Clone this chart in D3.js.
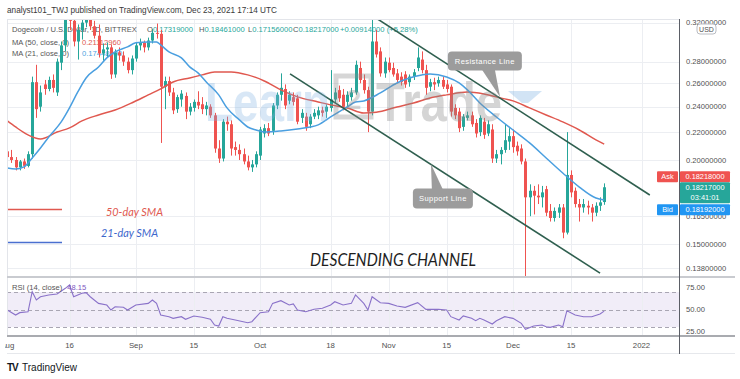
<!DOCTYPE html>
<html><head><meta charset="utf-8">
<script src="https://cdn.jsdelivr.net/npm/d3@7"></script>
<style>
html,body{margin:0;padding:0;background:#fff;}
svg{display:block;font-family:"Liberation Sans","DejaVu Sans",sans-serif;}
</style></head><body>
<svg id="c" width="740" height="379"></svg>
<script>
// ---------- DATA ----------
const firstDay = "2021-08-01";
const openP = [
.206,.202,.200,.195,.199,.196,.204,
.261,.240,.259,.255,.263,.252,.279,
.296,.330,.322,.300,.312,.320,.330,
.316,.306,.288,.292,.294,.268,.289,
.286,.280,.272,.283,.296,.299,.294,
.301,.309,.308,.257,.262,.252,.238,
.246,.249,.236,.239,.244,.242,.238,
.240,.233,.208,.201,.228,.226,.209,
.207,.204,.199,.195,.197,.203,.219,
.223,.221,.241,.250,.255,.245,.248,
.247,.231,.232,.226,.232,.233,.237,
.236,.239,.246,.254,.250,.244,.248,
.252,.274,.263,.254,.236,.300,.290,
.269,.279,.274,.269,.266,.268,.261,
.266,.274,.282,.272,.257,.261,.260,
.263,.259,.257,.239,.236,.224,.231,
.233,.227,.220,.228,.219,.222,.201,
.204,.207,.213,.217,.210,.208,.199,
.176,.180,.177,.176,.181,.168,.164,
.167,.170,.156,.190,.180,.172,.170,
.171,.170,.167,.171,.17319];
const highP = [
.209,.207,.202,.200,.201,.206,.266,
.277,.258,.263,.266,.268,.283,.300,
.340,.350,.330,.318,.325,.338,.336,
.322,.318,.298,.299,.297,.292,.294,
.290,.284,.286,.299,.303,.301,.304,
.313,.319,.312,.266,.266,.256,.250,
.254,.252,.243,.246,.253,.248,.244,
.242,.235,.214,.230,.232,.229,.213,
.211,.208,.203,.200,.206,.224,.226,
.227,.243,.252,.269,.259,.253,.252,
.250,.238,.235,.234,.238,.240,.240,
.242,.272,.256,.258,.255,.253,.256,
.281,.280,.268,.257,.323,.312,.294,
.284,.284,.279,.273,.270,.271,.268,
.273,.294,.290,.277,.264,.265,.266,
.266,.263,.259,.242,.239,.234,.236,
.236,.230,.233,.231,.229,.226,.207,
.209,.226,.223,.222,.213,.211,.201,
.184,.183,.184,.183,.183,.172,.170,
.172,.172,.220,.193,.182,.175,.175,
.174,.172,.173,.176,.18461];
const lowP = [
.200,.198,.193,.193,.194,.195,.201,
.231,.236,.250,.253,.252,.249,.272,
.290,.312,.295,.282,.302,.315,.312,
.303,.284,.281,.284,.264,.265,.281,
.276,.269,.268,.280,.291,.289,.291,
.298,.303,.212,.238,.249,.234,.235,
.240,.230,.233,.236,.238,.234,.233,
.231,.205,.198,.199,.221,.203,.203,
.200,.197,.193,.192,.195,.200,.216,
.217,.218,.238,.245,.238,.242,.241,
.226,.227,.221,.223,.230,.230,.232,
.231,.236,.243,.244,.237,.240,.245,
.250,.260,.251,.220,.233,.284,.266,
.265,.270,.266,.260,.258,.256,.257,
.263,.271,.269,.250,.253,.254,.257,
.255,.252,.232,.230,.220,.221,.229,
.224,.216,.217,.215,.217,.198,.198,
.197,.205,.207,.205,.203,.197,.130,
.165,.166,.172,.170,.165,.162,.162,
.164,.153,.155,.176,.170,.162,.167,
.166,.162,.165,.168,.17156];
const closeP = [
.202,.200,.195,.199,.196,.204,.261,
.238,.252,.255,.263,.256,.280,.296,
.330,.322,.300,.312,.320,.330,.316,
.306,.288,.292,.294,.268,.289,.286,
.280,.272,.283,.296,.299,.294,.301,
.309,.308,.257,.262,.252,.237,.248,
.251,.236,.240,.244,.241,.238,.241,
.233,.208,.201,.228,.226,.208,.207,
.204,.199,.195,.197,.204,.222,.223,
.219,.241,.250,.256,.241,.250,.244,
.228,.235,.224,.232,.235,.237,.235,
.240,.246,.252,.247,.240,.250,.252,
.277,.263,.254,.236,.300,.287,.269,
.280,.272,.268,.263,.261,.259,.266,
.270,.284,.272,.256,.261,.259,.263,
.257,.255,.236,.233,.223,.232,.233,
.226,.219,.231,.218,.226,.201,.204,
.207,.214,.217,.209,.206,.199,.176,
.180,.177,.176,.179,.167,.164,.168,
.170,.156,.190,.179,.172,.170,.172,
.170,.167,.171,.173,.18217];

const ma50Dates = ["2021-08-01","2021-08-03","2021-08-06","2021-08-09","2021-08-13","2021-08-16","2021-08-19","2021-08-23","2021-08-27","2021-08-31","2021-09-04","2021-09-07","2021-09-10","2021-09-14","2021-09-17","2021-09-20","2021-09-24","2021-09-28","2021-10-02","2021-10-06","2021-10-10","2021-10-15","2021-10-18","2021-10-22","2021-10-26","2021-10-29","2021-11-03","2021-11-07","2021-11-11","2021-11-15","2021-11-20","2021-11-24","2021-11-28","2021-12-01","2021-12-05","2021-12-09","2021-12-13","2021-12-17","2021-12-21","2021-12-23"];
const ma50Values = [.2286,.2239,.2179,.2149,.2201,.2232,.2286,.2333,.2373,.2431,.2499,.2551,.2612,.2648,.2676,.2703,.2703,.2676,.2621,.2542,.2482,.2439,.2415,.2390,.2349,.2355,.2398,.2431,.2473,.2499,.2524,.2507,.2473,.2448,.2390,.2333,.2278,.2216,.2142,.2111];

const ma21Dates = ["2021-08-01","2021-08-03","2021-08-05","2021-08-07","2021-08-09","2021-08-11","2021-08-14","2021-08-16","2021-08-18","2021-08-20","2021-08-23","2021-08-25","2021-08-27","2021-08-30","2021-09-01","2021-09-04","2021-09-06","2021-09-07","2021-09-09","2021-09-12","2021-09-14","2021-09-16","2021-09-18","2021-09-21","2021-09-23","2021-09-26","2021-09-28","2021-09-30","2021-10-02","2021-10-06","2021-10-10","2021-10-15","2021-10-18","2021-10-22","2021-10-24","2021-10-26","2021-10-30","2021-11-03","2021-11-06","2021-11-09","2021-11-11","2021-11-15","2021-11-18","2021-11-20","2021-11-23","2021-11-27","2021-12-01","2021-12-05","2021-12-09","2021-12-13","2021-12-17","2021-12-21","2021-12-23"];
const ma21Values = [.1946,.1939,.1953,.2014,.2084,.2164,.2278,.2390,.2524,.2648,.2750,.2836,.2895,.2945,.2986,.2996,.2996,.2965,.2895,.2836,.2750,.2694,.2612,.2499,.2390,.2294,.2239,.2216,.2201,.2209,.2224,.2255,.2317,.2398,.2439,.2448,.2516,.2603,.2648,.2676,.2685,.2657,.2603,.2542,.2431,.2317,.2216,.2120,.2014,.1913,.1823,.1756,.1744];

const rsiDates = ["2021-08-01","2021-08-03","2021-08-04","2021-08-06","2021-08-07","2021-08-08","2021-08-09","2021-08-11","2021-08-13","2021-08-15","2021-08-16","2021-08-17","2021-08-19","2021-08-20","2021-08-21","2021-08-23","2021-08-25","2021-08-26","2021-08-27","2021-08-29","2021-08-30","2021-09-01","2021-09-04","2021-09-05","2021-09-06","2021-09-07","2021-09-09","2021-09-10","2021-09-12","2021-09-13","2021-09-15","2021-09-17","2021-09-19","2021-09-20","2021-09-21","2021-09-22","2021-09-23","2021-09-25","2021-09-28","2021-09-29","2021-10-01","2021-10-03","2021-10-04","2021-10-06","2021-10-08","2021-10-09","2021-10-10","2021-10-12","2021-10-14","2021-10-16","2021-10-18","2021-10-19","2021-10-21","2021-10-23","2021-10-24","2021-10-26","2021-10-27","2021-10-28","2021-10-30","2021-11-01","2021-11-03","2021-11-05","2021-11-08","2021-11-10","2021-11-13","2021-11-15","2021-11-16","2021-11-18","2021-11-19","2021-11-21","2021-11-22","2021-11-23","2021-11-24","2021-11-26","2021-11-27","2021-11-29","2021-12-01","2021-12-03","2021-12-04","2021-12-06","2021-12-08","2021-12-09","2021-12-10","2021-12-12","2021-12-13","2021-12-14","2021-12-16","2021-12-18","2021-12-20","2021-12-22","2021-12-23"];
const rsiValues = [49.4,43.7,46.4,47.5,70.4,60.9,64.6,66.6,67.7,74.2,78,64.6,68.5,69.2,64.6,57,55.1,49.4,53.2,52.5,49.4,55.1,57,60.9,57,43.7,41.8,39.9,41.8,38.8,42.6,41.1,38.8,32.3,31.1,41.8,39.9,38,34.9,36.1,46.4,47.5,57,60.1,55.1,56.3,49.4,47.5,50.2,51.4,55.1,58.9,55.1,57,66.6,57,49.4,64.6,57.8,57,54,52.5,57.8,50.2,50.2,49.4,41.8,38,42.6,39.9,37.2,39.9,38,33.4,37.2,41.8,39.9,34.2,27.4,31.1,32.3,30.3,29.6,32.3,30.3,48.6,43.7,41.8,41.8,44.9,48.15];

const priceTicks = [0.32,0.28,0.26,0.24,0.22,0.20,0.165,0.15,0.138];
const rsiTicks = [75,50,25];
const timeTicks = [["2021-08-01","Aug"],["2021-08-16","16"],["2021-09-01","Sep"],["2021-09-15","15"],["2021-10-01","Oct"],["2021-10-18","18"],["2021-11-01","Nov"],["2021-11-15","15"],["2021-12-01","Dec"],["2021-12-15","15"],["2022-01-01","2022"]];

const resistanceLine = [["2021-10-28T17:00:00Z",0.3258],["2022-01-03T00:00:00Z",0.1774]];
const supportLine = [["2021-10-08T05:00:00Z",0.2685],["2021-12-22T00:00:00Z",0.1358]];
const lastQuote = {open:0.17319,high:0.18461,low:0.17156,close:0.18217,ask:0.18218,bid:0.18192,change:0.00914,pct:5.28,ma50:0.21112960,ma21:0.17448,rsi:48.15};

// ---------- LAYOUT ----------
const L=7, R=679, T=19, B=277, RB=336;
const svg=d3.select("#c");
const parseD=d3.utcParse("%Y-%m-%d");
const toDate=s=> s.length>10 ? new Date(s) : parseD(s);
const x=d3.scaleUtc().domain([Date.UTC(2021,7,16),Date.UTC(2022,0,1)]).range([69.5,641.5]);
const y=d3.scaleLog().domain([0.134,0.324]).range([B,T]);
const yr=d3.scaleLinear().domain([30,70]).range([327,292]);
const up="#26a69a", down="#ef5350";

const defs=svg.append("defs");
defs.append("clipPath").attr("id","cm").append("rect").attr("x",L).attr("y",T).attr("width",R-L).attr("height",B-T);
defs.append("clipPath").attr("id","cr").append("rect").attr("x",L).attr("y",B).attr("width",R-L).attr("height",RB-B);
defs.append("clipPath").attr("id","ct").append("rect").attr("x",5).attr("y",337).attr("width",R-5).attr("height",20);

svg.append("rect").attr("width",740).attr("height",379).attr("fill","#fff");

// header
svg.append("text").attr("x",7).attr("y",13).attr("font-size",9).attr("fill","#3a3a3a")
  .attr("textLength",270).attr("lengthAdjust","spacingAndGlyphs")
  .text("analyst101_TWJ published on TradingView.com, Dec 23, 2021 17:14 UTC");

// RSI band
svg.append("rect").attr("x",L).attr("width",R-L).attr("y",yr(70)).attr("height",yr(30)-yr(70)).attr("fill","#f1edf8");

// grid
const grid=svg.append("g");
grid.selectAll("line.v").data(timeTicks.slice(1)).join("line")
  .attr("x1",d=>Math.round(x(toDate(d[0])))+0.5).attr("x2",d=>Math.round(x(toDate(d[0])))+0.5)
  .attr("y1",T).attr("y2",RB).attr("stroke","#eceef2").attr("stroke-width",1);
grid.selectAll("line.h").data(priceTicks).join("line")
  .attr("x1",L).attr("x2",R).attr("y1",d=>Math.round(y(d))+0.5).attr("y2",d=>Math.round(y(d))+0.5)
  .attr("stroke","#eceef2");

// RSI dashed lines
svg.append("g").selectAll("line").data([70,50,30]).join("line")
  .attr("x1",L).attr("x2",R).attr("y1",d=>Math.round(yr(d))+0.5).attr("y2",d=>Math.round(yr(d))+0.5)
  .attr("stroke","#a9a6b3").attr("stroke-dasharray","4,3").attr("stroke-width",1);

// legend (under candles)
const lg=svg.append("g").attr("font-size",7.6);
lg.append("text").attr("x",12).attr("y",32).attr("fill","#555").text("Dogecoin / U.S. Dollar, 1D, BITTREX");
const fmt8=d3.format(".8f");
[["O",lastQuote.open,147],["H",lastQuote.high,199],["L",lastQuote.low,248],["C",lastQuote.close,293]].forEach(([k,v,px])=>{
  const t=lg.append("text").attr("x",px).attr("y",32);
  t.append("tspan").attr("fill","#555").text(k);
  t.append("tspan").attr("fill",up).text(fmt8(v));
});
lg.append("text").attr("x",340).attr("y",32).attr("fill",up).text("+"+fmt8(lastQuote.change)+" (+"+lastQuote.pct.toFixed(2)+"%)");
lg.append("text").attr("x",12).attr("y",45).attr("fill","#555").text("MA (50, close, 0)");
lg.append("text").attr("x",82).attr("y",45).attr("fill","#e0584f").text(fmt8(lastQuote.ma50));
lg.append("text").attr("x",12).attr("y",56).attr("fill","#555").text("MA (21, close, 0)");
lg.append("text").attr("x",82).attr("y",56).attr("fill","#4a9fe0").text(fmt8(lastQuote.ma21));

// candles
const days=d3.utcDay.range(parseD(firstDay), d3.utcDay.offset(parseD(firstDay), openP.length));
const candles=days.map((d,i)=>({d,o:openP[i],h:highP[i],l:lowP[i],c:closeP[i]}));
const cg=svg.append("g").attr("clip-path","url(#cm)");
cg.selectAll("line.w").data(candles).join("line")
  .attr("x1",d=>Math.round(x(d.d))+0.5).attr("x2",d=>Math.round(x(d.d))+0.5)
  .attr("y1",d=>y(d.h)).attr("y2",d=>y(d.l))
  .attr("stroke",d=>d.c>=d.o?up:down).attr("stroke-width",1);
cg.selectAll("rect.b").data(candles).join("rect")
  .attr("x",d=>Math.round(x(d.d))-1).attr("width",3)
  .attr("y",d=>y(Math.max(d.o,d.c))).attr("height",d=>Math.max(1,Math.abs(y(d.o)-y(d.c))))
  .attr("fill",d=>d.c>=d.o?up:down);

// MAs
const lineGen=d3.line().x(d=>x(d[0])).y(d=>y(d[1])).curve(d3.curveMonotoneX);
cg.append("path").datum(ma50Dates.map((s,i)=>[toDate(s),ma50Values[i]]))
  .attr("d",lineGen).attr("fill","none").attr("stroke","#e0584f").attr("stroke-width",1.5);
cg.append("path").datum(ma21Dates.map((s,i)=>[toDate(s),ma21Values[i]]))
  .attr("d",lineGen).attr("fill","none").attr("stroke","#4a9fe0").attr("stroke-width",1.5);

// channel lines
[resistanceLine,supportLine].forEach(ln=>{
  cg.append("line").attr("x1",x(toDate(ln[0][0]))).attr("y1",y(ln[0][1]))
    .attr("x2",x(toDate(ln[1][0]))).attr("y2",y(ln[1][1]))
    .attr("stroke","#2f5f4f").attr("stroke-width",1.6);
});

// watermark
const wm=svg.append("g").attr("font-weight","bold");
wm.append("text").attr("transform","translate(205,121) scale(1,1.2)").attr("font-size",46).attr("fill","#7fb3e3").attr("opacity",0.3)
  .attr("textLength",125).attr("lengthAdjust","spacingAndGlyphs").text("Learn");
wm.append("rect").attr("x",336).attr("y",76).attr("width",35).attr("height",41).attr("fill","none")
  .attr("stroke","#8a8a8a").attr("stroke-width",5).attr("opacity",0.35);
wm.append("text").attr("x",353.5).attr("y",109).attr("text-anchor","middle").attr("font-size",28).attr("fill","#8a8a8a").attr("opacity",0.35).text("2");
wm.append("text").attr("transform","translate(376,121) scale(1,1.2)").attr("font-size",46).attr("fill","#8a8a8a").attr("opacity",0.35)
  .attr("textLength",126).attr("lengthAdjust","spacingAndGlyphs").text("Trade");
wm.append("path").attr("d","M508,91 L542,91 L528,103 L522,103 Z").attr("fill","#7fb3e3").attr("opacity",0.35);

// callouts
function callout(cx,cy,w,h,tipX,tipY,b1,b2,fromTop,label){
  const g=svg.append("g");
  const bx=cx-w/2, by=cy-h/2;
  const baseY=fromTop?by+1:by+h-1;
  g.append("path").attr("d",`M${cx+b1},${baseY} L${tipX},${tipY} L${cx+b2},${baseY} Z`).attr("fill","#9c9c9c");
  g.append("rect").attr("x",bx).attr("y",by).attr("width",w).attr("height",h).attr("rx",4).attr("fill","#9c9c9c");
  g.append("text").attr("x",cx).attr("y",cy+2.8).attr("text-anchor","middle").attr("font-size",7.6)
    .attr("letter-spacing",0.4).attr("fill","#fff").text(label);
}
callout(x(toDate("2021-11-24T05:00:00Z")),y(0.2807),74,19,x(toDate("2021-11-27T21:00:00Z")),y(0.2482),-3,10,false,"Resistance Line");
callout(x(toDate("2021-11-14T02:00:00Z")),y(0.1753),60,20,x(toDate("2021-11-11T05:00:00Z")),y(0.1973),-11,0,true,"Support Line");

// SMA legend / title
svg.append("line").attr("x1",7).attr("x2",62).attr("y1",209.5).attr("y2",209.5).attr("stroke","#e0584f").attr("stroke-width",1.5);
svg.append("line").attr("x1",7).attr("x2",62).attr("y1",242.5).attr("y2",242.5).attr("stroke","#4a6fd0").attr("stroke-width",1.5);
svg.append("text").attr("x",106).attr("y",216).attr("font-family","Lato, sans-serif").attr("font-style","italic").attr("font-size",11.5)
  .attr("fill","#e0584f").attr("textLength",57).attr("lengthAdjust","spacingAndGlyphs").text("50-day SMA");
svg.append("text").attr("x",101).attr("y",237).attr("font-family","Lato, sans-serif").attr("font-style","italic").attr("font-size",11.5)
  .attr("fill","#3d67cc").attr("textLength",57).attr("lengthAdjust","spacingAndGlyphs").text("21-day SMA");
svg.append("text").attr("x",310).attr("y",266).attr("font-family","Lato, sans-serif").attr("font-style","italic").attr("font-size",17.5)
  .attr("fill","#1e1e1e").attr("textLength",166).attr("lengthAdjust","spacingAndGlyphs").text("DESCENDING CHANNEL");

// RSI line
const rg=svg.append("g").attr("clip-path","url(#cr)");
rg.append("path").datum(rsiDates.map((s,i)=>[toDate(s),rsiValues[i]]))
  .attr("d",d3.line().x(d=>x(d[0])).y(d=>yr(d[1])))
  .attr("fill","none").attr("stroke","#8a72c9").attr("stroke-width",1.1);
const rl=svg.append("text").attr("x",12).attr("y",290).attr("font-size",7.6);
rl.append("tspan").attr("fill","#555").text("RSI (14, close)");
rl.append("tspan").attr("dx",5).attr("fill","#7e57c2").text(lastQuote.rsi.toFixed(2));

// borders
svg.append("line").attr("x1",L).attr("x2",R).attr("y1",T+0.5).attr("y2",T+0.5).attr("stroke","#e3e5ea");
svg.append("line").attr("x1",L+0.5).attr("x2",L+0.5).attr("y1",T).attr("y2",RB).attr("stroke","#e3e5ea");
svg.append("line").attr("x1",L).attr("x2",735).attr("y1",B).attr("y2",B).attr("stroke","#c9cbd0").attr("stroke-width",2);
svg.append("line").attr("x1",L).attr("x2",735).attr("y1",RB).attr("y2",RB).attr("stroke","#a9abb0").attr("stroke-width",2);
svg.append("line").attr("x1",L).attr("x2",735).attr("y1",353.5).attr("y2",353.5).attr("stroke","#e6e8ec");
svg.append("line").attr("x1",R+0.5).attr("x2",R+0.5).attr("y1",T).attr("y2",354).attr("stroke","#5b5e66").attr("stroke-width",1);

// price axis labels
const ax=svg.append("g").attr("font-size",7.6).attr("fill","#505050");
ax.selectAll("text.p").data(priceTicks).join("text").attr("x",686).attr("y",d=>y(d)+2.8).text(d=>fmt8(d));
ax.selectAll("text.r").data(rsiTicks).join("text").attr("x",686).attr("y",d=>yr(d)+2.8).text(d=>d3.format(".2f")(d));
// time axis
svg.append("g").attr("clip-path","url(#ct)").attr("font-size",7.8).attr("fill","#505050")
  .selectAll("text").data(timeTicks).join("text").attr("x",d=>x(toDate(d[0]))).attr("y",348).attr("text-anchor","middle").text(d=>d[1]);

// USD badge
svg.append("rect").attr("x",697).attr("y",24).attr("width",19).attr("height",10).attr("rx",3).attr("fill","#fff").attr("stroke","#b8bbc2");
svg.append("text").attr("x",706.5).attr("y",31.5).attr("text-anchor","middle").attr("font-size",7).attr("fill","#505050").text("USD");

// price tags
const yc=y(lastQuote.close);
function tag(x0,y0,w,h,fill,lines){
  svg.append("rect").attr("x",x0).attr("y",y0).attr("width",w).attr("height",h).attr("rx",1).attr("fill",fill);
  lines.forEach((l,i)=>svg.append("text").attr("x",x0+w/2).attr("y",y0+8+i*10).attr("text-anchor","middle")
    .attr("font-size",7.4).attr("fill","#fff").text(l));
}
tag(657,yc-16,21,11,down,["Ask"]);
tag(680,yc-16,50,11,down,[fmt8(lastQuote.ask)]);
tag(680,yc-5,50,21,up,[fmt8(lastQuote.close),"03:41:01"]);
tag(657,yc+17,21,11,"#2196f3",["Bid"]);
tag(680,yc+17,50,11,"#2196f3",[fmt8(lastQuote.bid)]);

// TradingView footer
const ft=svg.append("g");
ft.append("text").attr("x",7).attr("y",371).attr("font-size",10).attr("font-weight","bold").attr("fill","#131722").attr("letter-spacing",-1).text("TV");
ft.append("text").attr("x",22).attr("y",371).attr("font-size",10).attr("fill","#131722").text("TradingView");
</script>
</body></html>
